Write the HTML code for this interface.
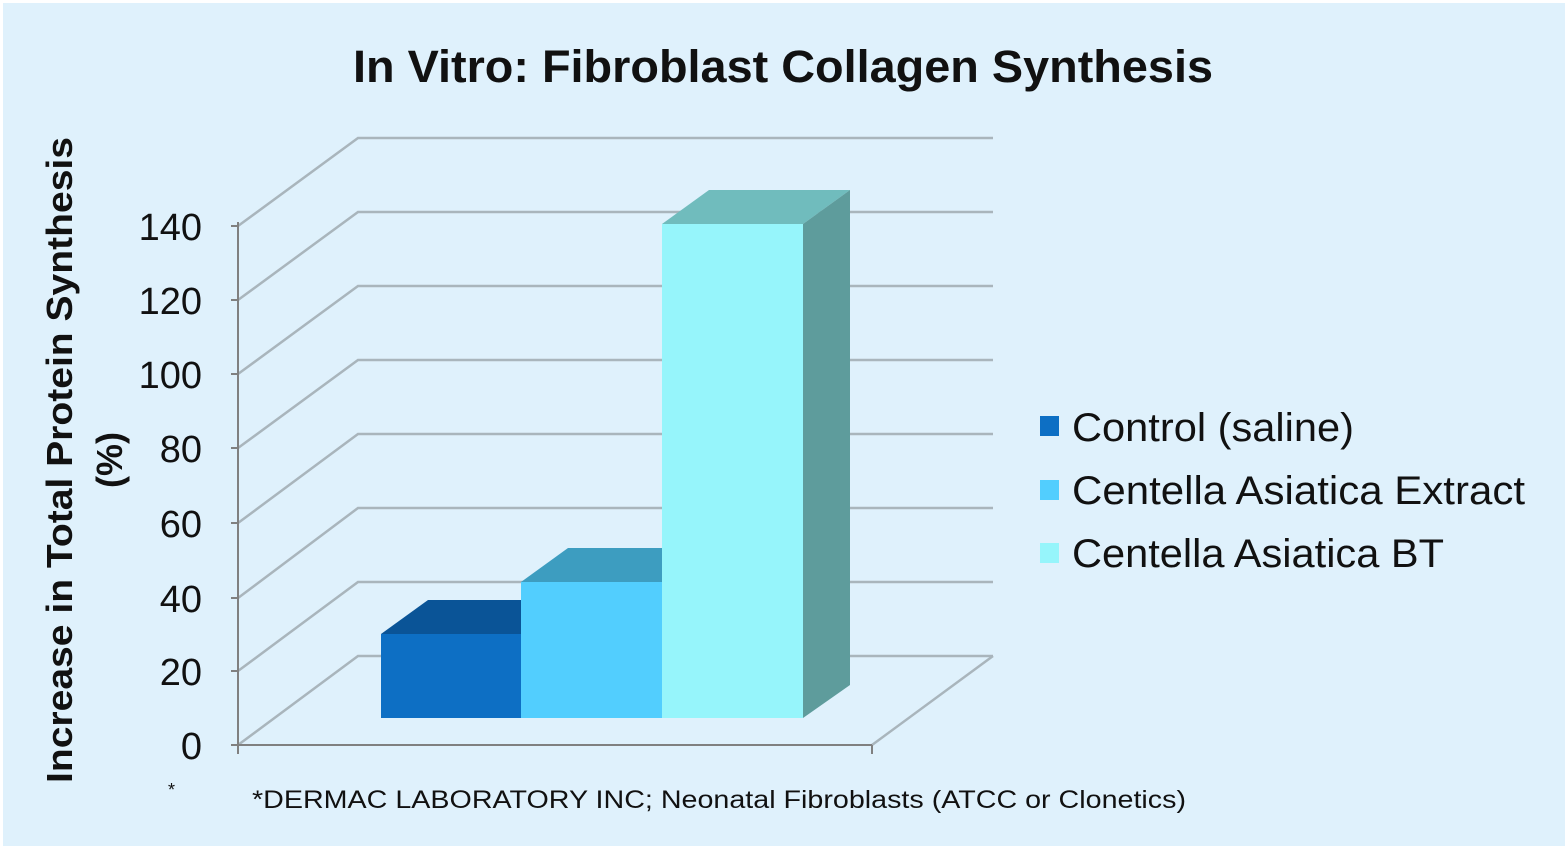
<!DOCTYPE html>
<html><head><style>
body{margin:0;background:#fff}
svg{display:block}
text{font-family:"Liberation Sans",sans-serif;fill:#111}
</style></head><body>
<svg width="1568" height="849" viewBox="0 0 1568 849">
<rect x="0" y="0" width="1568" height="849" fill="#fff"/>
<rect x="3" y="3" width="1562" height="843" fill="#dff1fc"/>
<text x="353" y="82" font-size="45" font-weight="bold" textLength="860" lengthAdjust="spacingAndGlyphs">In Vitro: Fibroblast Collagen Synthesis</text>
<g stroke="#a9b5bc" stroke-width="2.5" fill="none">
<polyline points="238,226 358,138 993,138"/>
<polyline points="238,300 358,212 993,212"/>
<polyline points="238,374 358,286 993,286"/>
<polyline points="238,448 358,360 993,360"/>
<polyline points="238,523 358,434 993,434"/>
<polyline points="238,598 358,508 993,508"/>
<polyline points="238,671 358,582 993,582"/>
<polyline points="238,745 358,656 993,656"/>
<polyline points="872,745 993,656"/>
</g>
<g stroke="#808080" stroke-width="2" fill="none">
<line x1="238" y1="222" x2="238" y2="754"/>
<line x1="238" y1="745" x2="872" y2="745"/>
<line x1="872" y1="745" x2="872" y2="754"/>
<line x1="231" y1="226" x2="238" y2="226"/><line x1="231" y1="300" x2="238" y2="300"/>
<line x1="231" y1="374" x2="238" y2="374"/><line x1="231" y1="448" x2="238" y2="448"/>
<line x1="231" y1="523" x2="238" y2="523"/><line x1="231" y1="598" x2="238" y2="598"/>
<line x1="231" y1="671" x2="238" y2="671"/><line x1="231" y1="745" x2="238" y2="745"/>
</g>
<polygon points="381,634 428,600 568,600 521,634" fill="#0a5497"/>
<rect x="381" y="634" width="140" height="84" fill="#0d6fc4"/>
<polygon points="521,582 568,548 709,548 662,582" fill="#3d9dc0"/>
<rect x="521" y="582" width="141" height="136" fill="#52cefe"/>
<polygon points="662,224 709,190 850,190 803,224" fill="#70bcbd"/>
<polygon points="803,224 850,190 850,685 803,718" fill="#5e9c9c"/>
<rect x="662" y="224" width="141" height="494" fill="#96f5fb"/>
<g font-size="38" text-anchor="end">
<text x="202" y="240">140</text><text x="202" y="314">120</text>
<text x="202" y="388">100</text><text x="202" y="462">80</text>
<text x="202" y="537">60</text><text x="202" y="612">40</text>
<text x="202" y="685">20</text><text x="202" y="759">0</text>
</g>
<g transform="translate(72,460) rotate(-90)" font-size="36" font-weight="bold" text-anchor="middle">
<text x="0" y="0" textLength="646" lengthAdjust="spacingAndGlyphs">Increase in Total Protein Synthesis</text>
<text x="0" y="50">(%)</text>
</g>
<rect x="1040" y="416" width="19" height="20" fill="#0d6fc4"/>
<rect x="1040" y="480" width="19" height="20" fill="#52cefe"/>
<rect x="1040" y="543" width="19" height="20" fill="#96f5fb"/>
<g font-size="40">
<text x="1072" y="441" textLength="282" lengthAdjust="spacingAndGlyphs">Control (saline)</text>
<text x="1072" y="504" textLength="453" lengthAdjust="spacingAndGlyphs">Centella Asiatica Extract</text>
<text x="1072" y="567" textLength="372" lengthAdjust="spacingAndGlyphs">Centella Asiatica BT</text>
</g>
<text x="168" y="796" font-size="18">*</text>
<text x="252" y="808" font-size="25" textLength="934" lengthAdjust="spacingAndGlyphs">*DERMAC LABORATORY INC; Neonatal Fibroblasts (ATCC or Clonetics)</text>
</svg>
</body></html>
